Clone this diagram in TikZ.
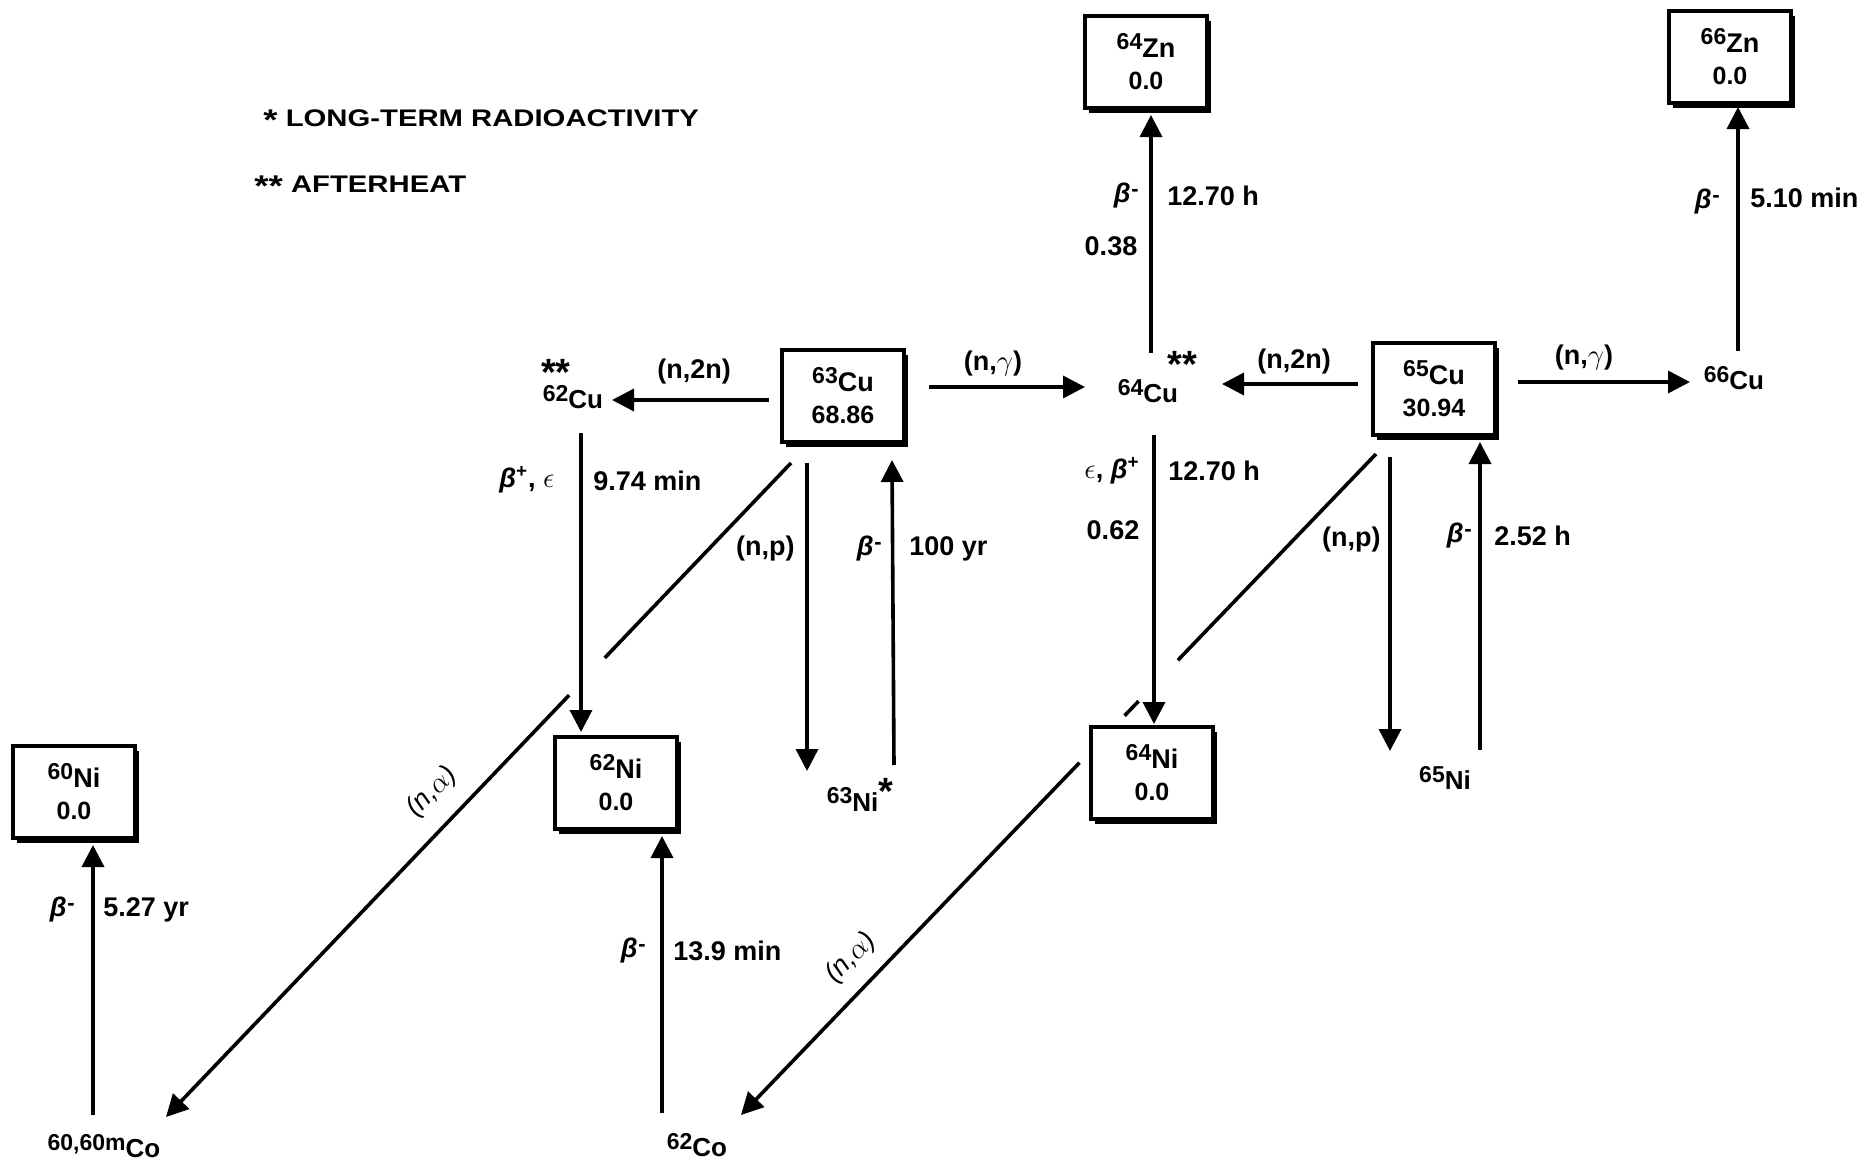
\documentclass[tikz,border=0pt]{standalone}
\usepackage{fontspec}
\setmainfont{Liberation Sans}
\newfontfamily\legendfont{Liberation Sans}[FakeStretch=1.22]
\usetikzlibrary{arrows.meta,shadows,calc}
\newcommand\iso[2]{\raisebox{0.55ex}{\fontsize{11.5}{12}\selectfont #1}#2}
\newcommand\betam{{\bfseries\itshape β}\kern0.3pt\raisebox{0.45ex}{\fontsize{11}{11}\selectfont -}}
\newcommand\betap{{\bfseries\itshape β}\textsuperscript{+}}
\newcommand\boxnum[1]{{\fontsize{12.5}{13}\selectfont #1}}
\newcommand\bigstar[1]{{\fontsize{19}{19}\selectfont #1}}
\newcommand\legstar[1]{{\fontsize{15}{15}\selectfont\raisebox{-0.25ex}{#1}}}
\begin{document}
\begin{tikzpicture}[x=0.5pt,y=-0.5pt,
  box/.style={draw, line width=2.1pt, fill=white, minimum width=61pt, minimum height=46pt,
    align=center, inner sep=2pt, font=\bfseries\fontsize{13.5}{15}\selectfont,
    drop shadow={shadow xshift=2.2pt, shadow yshift=-2.4pt, fill=black, opacity=1}},
  iso/.style={font=\bfseries\fontsize{13}{15}\selectfont, inner sep=1pt},
  lab/.style={font=\bfseries\fontsize{13.5}{15}\selectfont, inner sep=1pt},
  nalpha/.style={font=\itshape\fontsize{13.5}{15}\selectfont, inner sep=1pt, rotate=46},
  legend/.style={font=\legendfont\bfseries\fontsize{12}{13}\selectfont, inner sep=0pt, anchor=west},
  arr/.style={line width=1.8pt, -{Triangle[length=11pt,width=11pt]}},
  ln/.style={line width=1.8pt}
]
\useasboundingbox (0,0) rectangle (1860,1167);

% legend
\node[legend] (leg1) at (263,120) {\legstar{*} LONG-TERM RADIOACTIVITY};
\node[legend] (leg2) at (254,186) {\legstar{**} AFTERHEAT};

% boxed stable nuclides
\node[box] (z64) at (1146,62) {\iso{64}{Zn}\\[1pt]\boxnum{0.0}};
\node[box] (z66) at (1730,57) {\iso{66}{Zn}\\[1pt]\boxnum{0.0}};
\node[box] (c63) at (843,396) {\iso{63}{Cu}\\[1pt]\boxnum{68.86}};
\node[box] (c65) at (1434,389) {\iso{65}{Cu}\\[1pt]\boxnum{30.94}};
\node[box] (n60) at (74,792) {\iso{60}{Ni}\\[1pt]\boxnum{0.0}};
\node[box] (n62) at (616,783) {\iso{62}{Ni}\\[1pt]\boxnum{0.0}};
\node[box] (n64) at (1152,773) {\iso{64}{Ni}\\[1pt]\boxnum{0.0}};

% free nuclides
\node[iso] (c62) at (573,397) {\iso{62}{Cu}};
\node[iso] (c62s) at (556,372) {\bigstar{**}};
\node[iso] (c64) at (1148,391) {\iso{64}{Cu}};
\node[iso] (c64s) at (1182,364) {\bigstar{**}};
\node[iso] (c66) at (1734,378) {\iso{66}{Cu}};
\node[iso] (n63) at (860,795) {\iso{63}{Ni}\raisebox{0.5ex}{\bigstar{*}}};
\node[iso] (n65) at (1445,778) {\iso{65}{Ni}};
\node[iso] (co60) at (104,1146) {\iso{60,60m}{Co}};
\node[iso] (co62) at (697,1145) {\iso{62}{Co}};

% horizontal reactions
\draw[arr] ([shift={(-74,4)}]c63.center) -- ([shift={(39,3)}]c62.center);
\node[lab] (l1) at (694,372) {(n,2n)};
\draw[arr] ([shift={(86,-9)}]c63.center) -- ([shift={(-63,-4)}]c64.center);
\node[lab] (l2) at (993,364) {(n,$\gamma$)};
\draw[arr] ([shift={(-76,-5)}]c65.center) -- ([shift={(74,-7)}]c64.center);
\node[lab] (l3) at (1294,362) {(n,2n)};
\draw[arr] ([shift={(84,-7)}]c65.center) -- ([shift={(-44,4)}]c66.center);
\node[lab] (l4) at (1584,358) {(n,$\gamma$)};

% vertical decays and reactions
\draw[arr] ([shift={(3,-38)}]c64.center) -- ([shift={(5,53)}]z64.center);
\node[lab,anchor=east] (l5a) at (1141,196) {\betam};
\node[lab,anchor=west] (l5b) at (1165,196) {12.70 h};
\node[lab] (l5c) at (1111,246) {0.38};

\draw[arr] ([shift={(4,-27)}]c66.center) -- ([shift={(8,50)}]z66.center);
\node[lab,anchor=east] (l6a) at (1722,202) {\betam};
\node[lab,anchor=west] (l6b) at (1748,198) {5.10 min};

\draw[arr] ([shift={(8,36)}]c62.center) -- ([shift={(-35,-51)}]n62.center);
\node[lab,anchor=east] (l7a) at (557,480) {\betap, $\epsilon$};
\node[lab,anchor=west] (l7b) at (591,481) {9.74 min};

\draw[arr] ([shift={(6,44)}]c64.center) -- ([shift={(2,-49)}]n64.center);
\node[lab,anchor=east] (l8a) at (1142,471) {$\epsilon$, \betap};
\node[lab,anchor=west] (l8b) at (1166,471) {12.70 h};
\node[lab] (l8c) at (1113,530) {0.62};

\draw[arr] ([shift={(-36,67)}]c63.center) -- ([shift={(-53,-24)}]n63.center);
\node[lab,anchor=east] (l9) at (797,549) {(n,p)};

\draw[arr] ([shift={(34,-30)}]n63.center) -- ([shift={(49,64)}]c63.center);
\node[lab,anchor=east] (l10a) at (884,549) {\betam};
\node[lab,anchor=west] (l10b) at (907,549) {100 yr};

\draw[arr] ([shift={(-44,68)}]c65.center) -- ([shift={(-55,-27)}]n65.center);
\node[lab,anchor=east] (l11) at (1383,540) {(n,p)};

\draw[arr] ([shift={(35,-28)}]n65.center) -- ([shift={(46,53)}]c65.center);
\node[lab,anchor=east] (l12a) at (1474,536) {\betam};
\node[lab,anchor=west] (l12b) at (1492,536) {2.52 h};

\draw[arr] ([shift={(-11,-31)}]co60.center) -- ([shift={(19,53)}]n60.center);
\node[lab,anchor=east] (l13a) at (77,910) {\betam};
\node[lab,anchor=west] (l13b) at (101,910) {5.27 yr};

\draw[arr] ([shift={(-35,-32)}]co62.center) -- ([shift={(46,53)}]n62.center);
\node[lab,anchor=east] (l14a) at (648,951) {\betam};
\node[lab,anchor=west] (l14b) at (671,951) {13.9 min};

% (n,alpha) diagonals, broken where they pass other lines
\coordinate (a15s) at ([shift={(-52,67)}]c63.center);
\coordinate (a15e) at ([shift={(62,-29)}]co60.center);
\draw[ln] (a15s) -- ($(a15s)!0.298!(a15e)$);
\draw[arr] ($(a15s)!0.355!(a15e)$) -- (a15e);
\node[nalpha] (l15) at (432,792) {(n,$\alpha$)};

\coordinate (a16s) at ([shift={(-58,65)}]c65.center);
\coordinate (a16e) at ([shift={(44,-30)}]co62.center);
\draw[ln] (a16s) -- ($(a16s)!0.312!(a16e)$);
\draw[ln] ($(a16s)!0.374!(a16e)$) -- ($(a16s)!0.396!(a16e)$);
\draw[arr] ($(a16s)!0.467!(a16e)$) -- (a16e);
\node[nalpha] (l16) at (851,958) {(n,$\alpha$)};
\end{tikzpicture}
\end{document}
